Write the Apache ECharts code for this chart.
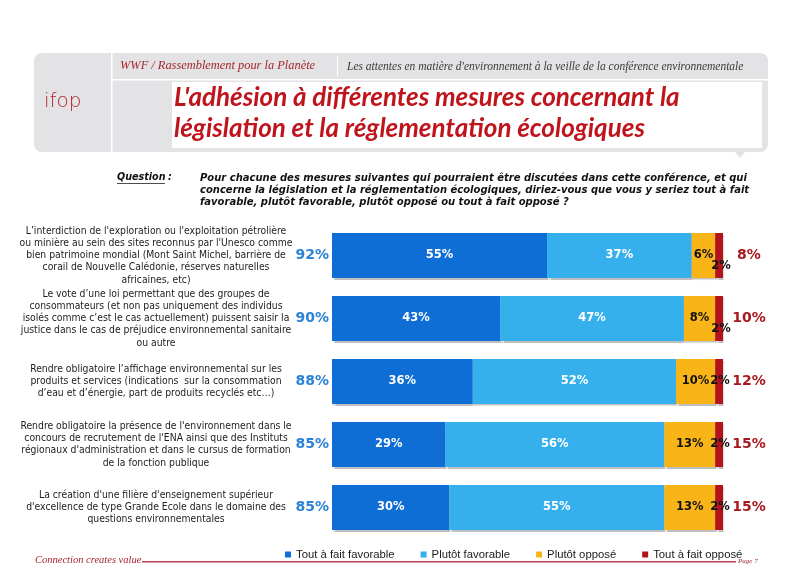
<!DOCTYPE html>
<html>
<head>
<meta charset="utf-8">
<script src="https://cdn.jsdelivr.net/npm/echarts@6/dist/echarts.min.js"></script>
<style>html,body{margin:0;padding:0;background:#fff;}#c{width:808px;height:587px;}</style>
</head>
<body>
<div id="c"></div>
<script>
const categories = [
  "L’interdiction de l'exploration ou l'exploitation pétrolière\nou minière au sein des sites reconnus par l'Unesco comme\nbien patrimoine mondial (Mont Saint Michel, barrière de\ncorail de Nouvelle Calédonie, réserves naturelles\nafricaines, etc)",
  "Le vote d’une loi permettant que des groupes de\nconsommateurs (et non pas uniquement des individus\nisolés comme c’est le cas actuellement) puissent saisir la\njustice dans le cas de préjudice environnemental sanitaire\nou autre",
  "Rendre obligatoire l’affichage environnemental sur les\nproduits et services (indications  sur la consommation\nd’eau et d’énergie, part de produits recyclés etc…)",
  "Rendre obligatoire la présence de l'environnement dans le\nconcours de recrutement de l'ENA ainsi que des Instituts\nrégionaux d'administration et dans le cursus de formation\nde la fonction publique",
  "La création d'une filière d'enseignement supérieur\nd'excellence de type Grande Ecole dans le domaine des\nquestions environnementales"
];
const seriesNames = ["Tout à fait favorable", "Plutôt favorable", "Plutôt opposé", "Tout à fait opposé"];
const toutFavorable = [55, 43, 36, 29, 30];
const plutotFavorable = [37, 47, 52, 56, 55];
const plutotOppose = [6, 8, 10, 13, 13];
const toutOppose = [2, 2, 2, 2, 2];
const totalFavorable = [92, 90, 88, 85, 85];
const totalOppose = [8, 10, 12, 15, 15];

const colors = ["#0f6dd6", "#36b0ec", "#f9b517", "#b3141c"];
const chart = echarts.init(document.getElementById('c'), null, {renderer: 'canvas'});

const barFont = {fontFamily: 'DejaVu Sans', fontWeight: 'bold', fontSize: 11.5};
function mkSeries(i, vals) {
  return {
    name: seriesNames[i], type: 'bar', stack: 'a', barWidth: 45,
    itemStyle: {color: colors[i], shadowColor: 'rgba(0,0,0,0.25)', shadowOffsetY: 1.5, shadowOffsetX: 1, shadowBlur: 1},
    data: vals.map((v, k) => {
      const d = {value: v};
      if (i === 3 && k < 2) d.label = {offset: [2, 11]};
      if (i === 3 && k >= 2) d.label = {offset: [1, 0]};
      return d;
    }),
    label: Object.assign({show: true, position: 'inside', formatter: '{c}%',
      color: i < 2 ? '#ffffff' : '#111111'}, barFont),
    emphasis: {disabled: true}
  };
}

const option = {
  animation: false,
  backgroundColor: '#ffffff',
  color: colors,
  legend: {
    left: 280, top: 544, itemWidth: 6, itemHeight: 6, itemGap: 26, icon: 'rect',
    textStyle: {fontFamily: 'Liberation Sans', fontSize: 11.3, color: '#1a1a1a'},
    data: seriesNames
  },
  grid: {left: 332, right: 85, top: 224, bottom: 48},
  xAxis: {type: 'value', min: 0, max: 100, show: false},
  yAxis: [
    {type: 'category', inverse: true, data: categories, position: 'left',
      axisLine: {show: false}, axisTick: {show: false}, splitLine: {show: false},
      axisLabel: {margin: 3, formatter: (v, i) => totalFavorable[i] + '%',
        color: '#2a83d6', fontFamily: 'DejaVu Sans', fontWeight: 'bold', fontSize: 14}},
    {type: 'category', inverse: true, data: categories, position: 'left',
      axisLine: {show: false}, axisTick: {show: false}, splitLine: {show: false},
      axisLabel: {margin: 176, align: 'center', color: '#1c1c1c', lineHeight: 12.3,
        fontFamily: 'DejaVu Sans Condensed', fontSize: 10.3}},
    {type: 'category', inverse: true, data: categories, position: 'right',
      axisLine: {show: false}, axisTick: {show: false}, splitLine: {show: false},
      axisLabel: {margin: 26, align: 'center', formatter: (v, i) => totalOppose[i] + '%',
        color: '#a8191f', fontFamily: 'DejaVu Sans', fontWeight: 'bold', fontSize: 14}}
  ],
  series: [
    mkSeries(0, toutFavorable),
    mkSeries(1, plutotFavorable),
    mkSeries(2, plutotOppose),
    mkSeries(3, toutOppose)
  ],
  graphic: [
    {type: 'rect', shape: {x: 34, y: 53, width: 734, height: 99, r: 8}, style: {fill: '#e3e3e6'}, z: 0},
    {type: 'polygon', shape: {points: [[734, 151], [746, 151], [740, 158]]}, style: {fill: '#e3e3e6'}, z: 0},
    {type: 'rect', shape: {x: 111, y: 53, width: 1.5, height: 99}, style: {fill: '#ffffff'}, z: 1},
    {type: 'rect', shape: {x: 112, y: 79, width: 656, height: 1.5}, style: {fill: '#ffffff'}, z: 1},
    {type: 'rect', shape: {x: 172, y: 82, width: 590, height: 66}, style: {fill: '#ffffff'}, z: 1},
    {type: 'rect', shape: {x: 337, y: 56, width: 1, height: 20}, style: {fill: '#ffffff'}, z: 1},
    {type: 'text', left: 120, top: 60, z: 2, style: {text: 'WWF / Rassemblement pour la Planète', fill: '#a5262a',
      font: 'italic 12.4px "Liberation Serif"'}},
    {type: 'text', left: 347, top: 61, z: 2, style: {text: "Les attentes en matière d'environnement à la veille de la conférence environnementale", fill: '#3a3a3a',
      font: 'italic 11.5px "Liberation Serif"'}},
    {type: 'text', left: 44, top: 92, z: 2, style: {text: 'ifop', fill: '#b5262c',
      font: '200 20px "DejaVu Sans ExtraLight", "DejaVu Sans"'}},
    {type: 'text', left: 174, top: 82, z: 2, style: {text: "L'adhésion à différentes mesures concernant la\nlégislation et la réglementation écologiques", fill: '#c0141c',
      font: 'italic bold 26px Lato', lineHeight: 31}},
    {type: 'text', left: 117, top: 172, z: 2, style: {text: 'Question', fill: '#111',
      font: 'italic bold 9.6px "DejaVu Sans"'}},
    {type: 'rect', shape: {x: 117, y: 183, width: 48, height: 0.8}, style: {fill: '#111'}, z: 2},
    {type: 'text', left: 168, top: 172, z: 2, style: {text: ':', fill: '#111', font: 'italic bold 9.6px "DejaVu Sans"'}},
    {type: 'text', left: 200, top: 172, z: 2, style: {text: "Pour chacune des mesures suivantes qui pourraient être discutées dans cette conférence, et qui\nconcerne la législation et la réglementation écologiques, diriez-vous que vous y seriez tout à fait\nfavorable, plutôt favorable, plutôt opposé ou tout à fait opposé ?", fill: '#111',
      font: 'italic bold 10px "DejaVu Sans"', lineHeight: 12}},
    {type: 'text', left: 35, top: 555, z: 2, style: {text: 'Connection creates value', fill: '#a8262e',
      font: 'italic 10.5px "Liberation Serif"'}},
    {type: 'rect', shape: {x: 142, y: 561, width: 594, height: 1.5}, style: {fill: '#c0404e'}, z: 2},
    {type: 'text', left: 738, top: 558, z: 2, style: {text: 'Page 7', fill: '#a8262e',
      font: 'italic 7px "Liberation Serif"'}}
  ]
};
chart.setOption(option);
</script>
</body>
</html>
